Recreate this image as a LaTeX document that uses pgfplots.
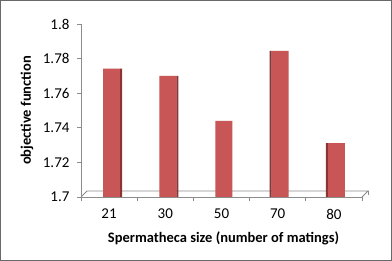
\documentclass[border=0pt]{standalone}
\usepackage{pgfplots}
\pgfplotsset{compat=1.18}
\usepackage{fontspec}
\setmainfont{Carlito}
\definecolor{barred}{RGB}{201,86,86}
\definecolor{barside}{RGB}{140,52,52}
\definecolor{axgray}{RGB}{140,140,140}
\definecolor{framegray}{RGB}{105,105,105}
\pgfdeclarelayer{background}
\pgfsetlayers{background,main}
\begin{document}
\begin{tikzpicture}[x=1pt,y=1pt]
\useasboundingbox (0,0) rectangle (392,261);
\begin{axis}[
  at={(81pt,64pt)}, anchor=south west,
  scale only axis, width=281pt, height=173pt,
  xmin=0.5, xmax=5.5, ymin=1.7, ymax=1.8,
  axis lines*=left,
  axis line style={axgray, line width=0.8pt, -},
  ytick={1.7,1.72,1.74,1.76,1.78,1.8},
  yticklabels={1.7,1.72,1.74,1.76,1.78,1.8},
  xtick={1,2,3,4,5},
  xticklabels={21,30,50,70,80},
  minor xtick={0.5,1.5,2.5,3.5,4.5,5.5},
  major x tick style={draw=none},
  tick align=outside,
  major tick length=4pt, minor tick length=4pt,
  every tick/.style={axgray, line width=0.8pt},
  /pgf/number format/assume math mode=true,
  ticklabel style={font=\fontsize{15}{15}\selectfont, text=black},
  xticklabel style={anchor=center, yshift=-13pt},
  yticklabel style={anchor=east, xshift=-4pt},
  xlabel={Spermatheca size (number of matings)},
  ylabel={objective function},
  label style={font=\bfseries\fontsize{14.5}{14.5}\selectfont},
  xlabel style={at={(axis description cs:0.5,-0.237)}, anchor=center, xshift=2pt},
  ylabel style={at={(axis description cs:-0.192,0.5)}, anchor=center},
]
\addplot[ybar, bar width=17pt, bar shift=2.5pt, fill=barred, draw=none]
  coordinates {(1,1.7742) (2,1.7700) (3,1.7440) (4,1.7844) (5,1.7312)};
\addplot[ybar, bar width=2pt, bar shift=12pt, fill=barside, draw=none]
  coordinates {(1,1.7742) (2,1.7700)};
\addplot[ybar, bar width=2pt, bar shift=-7pt, fill=barside, draw=none]
  coordinates {(4,1.7844) (5,1.7312)};
\end{axis}
\begin{pgfonlayer}{background}
\fill[white] (0,0) rectangle (392,261);
\draw[axgray, line width=0.8pt] (81,64) -- (87,70) -- (368,70) -- (362,64);
\draw[axgray, line width=0.8pt] (368,70) -- (368,66);
\end{pgfonlayer}
\draw[framegray, line width=1.2pt] (0.6,0.6) rectangle (391.4,260.4);
\end{tikzpicture}
\end{document}
